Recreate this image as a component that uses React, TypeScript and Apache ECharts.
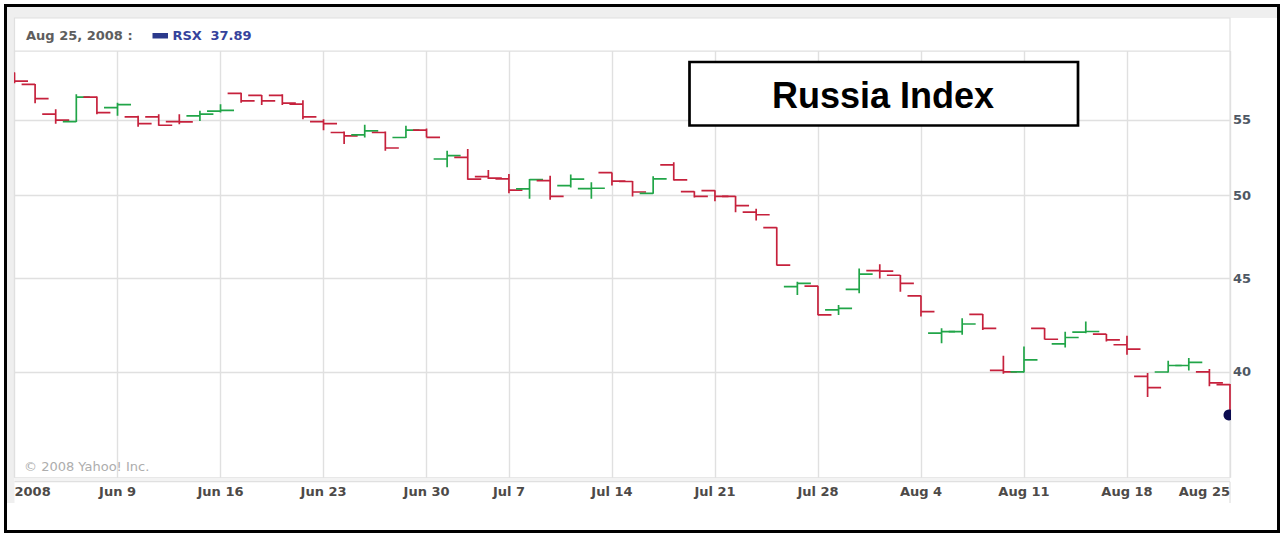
import React, { useEffect, useRef } from "react";
import * as echarts from "echarts";

// ---- data ----
const dates = [
  "Jun 2", "Jun 3", "Jun 4", "Jun 5", "Jun 6",
  "Jun 9", "Jun 10", "Jun 11", "Jun 12", "Jun 13",
  "Jun 16", "Jun 17", "Jun 18", "Jun 19", "Jun 20",
  "Jun 23", "Jun 24", "Jun 25", "Jun 26", "Jun 27",
  "Jun 30", "Jul 1", "Jul 2", "Jul 3",
  "Jul 7", "Jul 8", "Jul 9", "Jul 10", "Jul 11",
  "Jul 14", "Jul 15", "Jul 16", "Jul 17", "Jul 18",
  "Jul 21", "Jul 22", "Jul 23", "Jul 24", "Jul 25",
  "Jul 28", "Jul 29", "Jul 30", "Jul 31", "Aug 1",
  "Aug 4", "Aug 5", "Aug 6", "Aug 7", "Aug 8",
  "Aug 11", "Aug 12", "Aug 13", "Aug 14", "Aug 15",
  "Aug 18", "Aug 19", "Aug 20", "Aug 21", "Aug 22",
  "Aug 25",
];

const open = [
  58.37, 57.52, 55.40, 54.88, 56.61,
  55.86, 55.21, 55.21, 54.88, 55.28,
  55.61, 56.88, 56.73, 56.73, 56.10,
  54.88, 54.13, 53.97, 54.13, 53.79,
  54.29, 52.35, 52.45, 51.20,
  51.05, 50.41, 50.94, 50.62, 50.43,
  51.45, 50.88, 50.13, 51.96, 50.24,
  50.30, 49.94, 48.95, 48.00, 44.55,
  44.58, 43.26, 44.40, 45.46, 45.20,
  44.04, 42.01, 42.09, 43.02, 40.08,
  40.01, 42.27, 41.45, 42.07, 41.96,
  41.40, 39.78, 40.00, 40.33, 40.01,
  39.37,
];

const high = [
  58.40, 57.55, 55.74, 56.81, 56.65,
  56.21, 55.28, 55.40, 55.40, 55.63,
  56.10, 56.92, 56.76, 56.81, 56.38,
  55.05, 54.20, 54.66, 54.20, 54.59,
  54.40, 52.90, 53.01, 51.63,
  51.37, 51.05, 51.26, 51.34, 50.83,
  51.47, 50.91, 51.22, 52.13, 50.26,
  50.32, 49.96, 49.16, 48.02, 44.83,
  44.60, 43.53, 45.59, 45.83, 45.22,
  44.06, 42.27, 42.81, 43.04, 40.83,
  41.31, 42.29, 42.09, 42.63, 41.97,
  41.87, 39.95, 40.57, 40.71, 40.15,
  39.40,
];

const low = [
  57.60, 56.17, 54.74, 54.85, 55.40,
  55.28, 54.52, 54.59, 54.70, 54.93,
  55.51, 56.21, 56.05, 56.05, 55.05,
  54.29, 53.35, 53.79, 52.90, 53.75,
  53.79, 51.80, 50.99, 51.05,
  50.13, 49.78, 49.72, 50.49, 49.78,
  50.62, 49.93, 50.10, 50.94, 49.86,
  49.63, 48.95, 48.44, 45.76, 44.08,
  42.97, 42.99, 44.18, 45.02, 44.27,
  42.90, 41.48, 41.92, 42.18, 39.91,
  39.98, 41.67, 41.26, 42.01, 41.57,
  40.88, 38.75, 39.98, 40.07, 39.28,
  37.89,
];

const close = [
  57.76, 56.49, 54.98, 56.61, 55.51,
  56.07, 54.74, 54.63, 54.86, 55.40,
  55.67, 56.33, 56.33, 56.17, 55.21,
  54.74, 53.90, 54.24, 53.08, 54.29,
  53.80, 52.57, 51.04, 51.10,
  50.33, 51.00, 49.94, 51.04, 50.45,
  50.91, 50.21, 51.05, 50.99, 49.94,
  49.93, 49.36, 48.79, 45.78, 44.74,
  42.99, 43.35, 45.26, 45.43, 44.74,
  43.17, 42.09, 42.50, 42.27, 40.01,
  40.62, 41.69, 41.78, 42.10, 41.66,
  41.17, 39.22, 40.33, 40.49, 39.45,
  37.89,
];

const xTickDates = ["Jun 2", "Jun 9", "Jun 16", "Jun 23", "Jun 30", "Jul 7", "Jul 14", "Jul 21", "Jul 28", "Aug 4", "Aug 11", "Aug 18", "Aug 25"];
const xTickLabels = ["2008", "Jun 9", "Jun 16", "Jun 23", "Jun 30", "Jul 7", "Jul 14", "Jul 21", "Jul 28", "Aug 4", "Aug 11", "Aug 18", "Aug 25"];
const yTicks = [40, 45, 50, 55];
const year = "2008";
const ticker = "RSX";
const title = "Russia Index";
const copyright = "\u00A9 2008 Yahoo! Inc.";

const RED = "#c6213c";
const GREEN = "#21a548";
const GRID = "#e0e0e0";
const FONT = "DejaVu Sans, Verdana, sans-serif";

export default function App() {
  const ref = useRef<HTMLDivElement>(null);

  useEffect(() => {
    if (!ref.current) return;
    const chart = echarts.init(ref.current, null, { renderer: "svg" });
    const last = dates.length - 1;
    const ohlc = dates.map((_, i) => [i, open[i], high[i], low[i], close[i]]);
    const tickW = 13.5;

    const option: any = {
      animation: false,
      backgroundColor: "#ffffff",
      grid: {
        left: 14.5,
        right: 52,
        top: 51,
        bottom: 55.3,
        show: true,
        borderColor: "#dedede",
        borderWidth: 1,
        backgroundColor: "transparent",
      },
      xAxis: {
        type: "category",
        data: dates,
        boundaryGap: false,
        axisLine: { show: false },
        axisTick: { show: false },
        axisLabel: {
          interval: (_i: number, v: string) => xTickDates.includes(v),
          formatter: (v: string) => {
            const k = xTickDates.indexOf(v);
            return k >= 0 ? xTickLabels[k] : "";
          },
          margin: 7,
          fontFamily: FONT,
          fontSize: 13,
          fontWeight: "bold",
          color: "#4d4a48",
          alignMinLabel: "left",
          alignMaxLabel: "right",
        },
        splitLine: {
          show: true,
          interval: (_i: number, v: string) => xTickDates.includes(v),
          lineStyle: { color: GRID, width: 1.4 },
        },
      },
      yAxis: {
        type: "log",
        logBase: 10,
        min: 35,
        max: 60,
        position: "right",
        axisLine: { show: false },
        axisTick: { show: false },
        axisLabel: { show: false },
        splitLine: { show: false },
      },
      series: [
        {
          type: "line",
          data: close,
          symbol: "none",
          silent: true,
          lineStyle: { opacity: 0 },
          z: 1,
          markLine: {
            silent: true,
            symbol: ["none", "none"],
            animation: false,
            lineStyle: { color: GRID, width: 1.4, type: "solid" },
            label: {
              show: true,
              position: "end",
              distance: 3,
              formatter: (p: any) => String(p.value),
              fontFamily: FONT,
              fontSize: 13,
              fontWeight: "bold",
              color: "#4f5864",
            },
            data: yTicks.map((v) => ({ yAxis: v })),
          },
        },
        {
          type: "custom",
          data: ohlc,
          clip: true,
          z: 5,
          encode: { x: 0, y: [1, 2, 3, 4] },
          renderItem: (_params: any, api: any) => {
            const i = api.value(0);
            const o = api.value(1);
            const h = api.value(2);
            const l = api.value(3);
            const c = api.value(4);
            const po = api.coord([i, o]);
            const ph = api.coord([i, h]);
            const pl = api.coord([i, l]);
            const pc = api.coord([i, c]);
            const x = po[0];
            const color = c > o ? GREEN : RED;
            const st = { stroke: color, lineWidth: 1.7 };
            return {
              type: "group",
              children: [
                { type: "line", shape: { x1: x, y1: ph[1], x2: x, y2: pl[1] }, style: st },
                { type: "line", shape: { x1: x - tickW, y1: po[1], x2: x, y2: po[1] }, style: st },
                { type: "line", shape: { x1: x, y1: pc[1], x2: x + tickW, y2: pc[1] }, style: st },
              ],
            };
          },
        },
        {
          type: "custom",
          data: [[last, close[last]]],
          clip: true,
          z: 6,
          renderItem: (_params: any, api: any) => {
            const p = api.coord([api.value(0), api.value(1)]);
            return { type: "circle", shape: { cx: p[0] - 1, cy: p[1], r: 5.5 }, style: { fill: "#0b0b50" } };
          },
        },
      ],
      graphic: [
        { type: "rect", z: 0, silent: true, shape: { x: 7, y: 7, width: 1270, height: 11 }, style: { fill: "#efefef" } },
        { type: "rect", z: 0, silent: true, shape: { x: 7, y: 7, width: 7.5, height: 496 }, style: { fill: "#efefef" } },
        { type: "rect", z: 0, silent: true, shape: { x: 14.5, y: 18, width: 1215.5, height: 33 }, style: { fill: "#ffffff", stroke: "#e0e0e0", lineWidth: 1.2 } },
        { type: "rect", z: 0, silent: true, shape: { x: 14.5, y: 477.7, width: 1215.5, height: 4 }, style: { fill: "#f3f3f3" } },
        { type: "line", z: 0, silent: true, shape: { x1: 14.5, y1: 481.7, x2: 1230, y2: 481.7 }, style: { stroke: "#e0e0e0", lineWidth: 1.2 } },
        { type: "line", z: 0, silent: true, shape: { x1: 1230, y1: 481.7, x2: 1230, y2: 503 }, style: { stroke: "#e0e0e0", lineWidth: 1.2 } },
        {
          type: "text", z: 10, silent: true, x: 26, y: 35,
          style: { text: `${dates[last]}, ${year} :`, fill: "#5e5e5e", font: `bold 13px ${FONT}`, verticalAlign: "middle", align: "left" },
        },
        { type: "rect", z: 10, silent: true, shape: { x: 152.5, y: 33, width: 15.5, height: 5.5 }, style: { fill: "#2b3a8c" } },
        {
          type: "text", z: 10, silent: true, x: 172.5, y: 35,
          style: { text: ticker, fill: "#36439c", font: `bold 13px ${FONT}`, verticalAlign: "middle", align: "left" },
        },
        {
          type: "text", z: 10, silent: true, x: 210.5, y: 35,
          style: { text: close[last].toFixed(2), fill: "#36439c", font: `bold 13px ${FONT}`, verticalAlign: "middle", align: "left" },
        },
        {
          type: "text", z: 10, silent: true, x: 24, y: 466,
          style: { text: copyright, fill: "#adadad", font: `13px ${FONT}`, verticalAlign: "middle", align: "left" },
        },
        { type: "rect", z: 100, silent: true, shape: { x: 689.5, y: 62, width: 388.5, height: 63.5 }, style: { fill: "#ffffff", stroke: "#000000", lineWidth: 2.7 } },
        {
          type: "text", z: 101, silent: true, x: 883, y: 95,
          style: { text: title, fill: "#000000", font: "bold 36px 'Liberation Sans', Arial, sans-serif", verticalAlign: "middle", align: "center" },
        },
        { type: "rect", z: 100, silent: true, shape: { x: 5.5, y: 5.5, width: 1273, height: 526 }, style: { fill: "none", stroke: "#000000", lineWidth: 3 } },
      ],
    };

    chart.setOption(option);
    return () => chart.dispose();
  }, []);

  return (
    <div
      ref={ref}
      style={{ position: "fixed", left: 0, top: 0, width: 1282, height: 533, background: "#ffffff" }}
    />
  );
}
